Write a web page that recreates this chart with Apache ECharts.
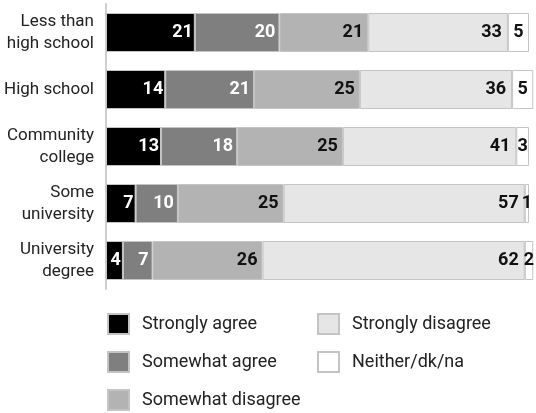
<!DOCTYPE html>
<html>
<head>
<meta charset="utf-8">
<script src="https://cdn.jsdelivr.net/npm/echarts@6/dist/echarts.min.js"></script>
<style>
  html, body { margin: 0; padding: 0; background: #fff; }
  #chart { width: 536px; height: 413px; }
</style>
</head>
<body>
<div id="chart"></div>
<script>
// Education levels and the share of answers in each response group (%)
var categories = ['Less than\nhigh school', 'High school', 'Community\ncollege', 'Some\nuniversity', 'University\ndegree'];
var stronglyAgree = [21, 14, 13, 7, 4];
var somewhatAgree = [20, 21, 18, 10, 7];
var somewhatDisagree = [21, 25, 25, 25, 26];
var stronglyDisagree = [33, 36, 41, 57, 62];
var neither = [5, 5, 3, 1, 2];

var FONT = 'Roboto, "Liberation Sans", sans-serif';

function makeSeries(name, data, color, textColor, pos, dist) {
  return {
    name: name,
    type: 'bar',
    stack: 'total',
    barWidth: 39,
    data: data,
    clip: false,
    itemStyle: { color: color, borderColor: '#c4c4c4', borderWidth: 1 },
    label: {
      show: true,
      position: pos,
      distance: dist,
      color: textColor,
      fontFamily: FONT,
      fontSize: 18,
      fontWeight: 'bold'
    },
    emphasis: { disabled: true }
  };
}

var chart = echarts.init(document.getElementById('chart'), null, { renderer: 'canvas' });
var legendText = { fontFamily: FONT, fontSize: 18, lineHeight: 20, color: '#222', padding: [0, 0, 0, 8] };

chart.setOption({
  animation: false,
  grid: { left: 106, right: 7, top: 4, bottom: 124, containLabel: false, outerBoundsMode: 'none' },
  xAxis: { type: 'value', min: 0, max: 100, show: false },
  yAxis: {
    type: 'category',
    inverse: true,
    data: categories,
    axisLine: { show: true, lineStyle: { color: '#cfcfcf', width: 2 } },
    axisTick: { show: false },
    axisLabel: { margin: 12, fontFamily: FONT, fontSize: 17, color: '#222', lineHeight: 22, align: 'right' }
  },
  legend: [
    {
      orient: 'vertical', left: 107, top: 313, height: 110, padding: 0,
      itemWidth: 21, itemHeight: 20, itemGap: 16,
      icon: 'rect',
      data: ['Strongly agree', 'Somewhat agree', 'Somewhat disagree'],
      textStyle: legendText,
      selectedMode: false
    },
    {
      orient: 'vertical', left: 317, top: 313, height: 110, padding: 0,
      itemWidth: 21, itemHeight: 20, itemGap: 16,
      icon: 'rect',
      data: ['Strongly disagree', 'Neither/dk/na'],
      textStyle: legendText,
      selectedMode: false
    }
  ],
  series: [
    makeSeries('Strongly agree', stronglyAgree, '#000000', '#ffffff', 'insideRight', 2),
    makeSeries('Somewhat agree', somewhatAgree, '#7f7f7f', '#ffffff', 'insideRight', 4),
    makeSeries('Somewhat disagree', somewhatDisagree, '#b3b3b3', '#111111', 'insideRight', 5),
    makeSeries('Strongly disagree', stronglyDisagree, '#e6e6e6', '#111111', 'insideRight', 6),
    makeSeries('Neither/dk/na', neither, '#ffffff', '#111111', 'inside', 0)
  ]
});
</script>
</body>
</html>
